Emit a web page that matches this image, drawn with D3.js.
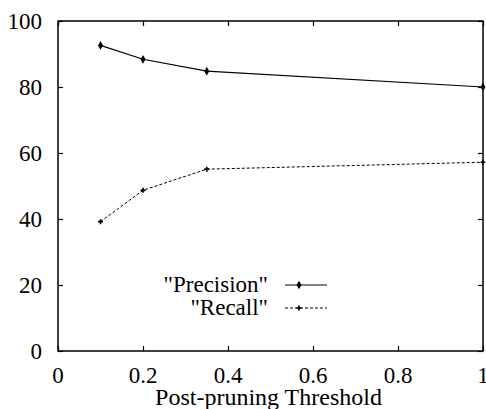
<!DOCTYPE html>
<html>
<head>
<script src="https://cdn.jsdelivr.net/npm/d3@7/dist/d3.min.js"></script>
</head>
<body style="margin:0">
<script>

// data
var thresholds = [0.1, 0.2, 0.35, 1];
var precision = [92.6, 88.4, 84.8, 80.0];
var recall = [39.2, 48.7, 55.1, 57.2];
var seriesNames = ["\"Precision\"", "\"Recall\""];
var xTicks = [0, 0.2, 0.4, 0.6, 0.8, 1];
var yTicks = [0, 20, 40, 60, 80, 100];

var fontFam = "Liberation Serif";

var margin = {top: 21, right: 3, bottom: 58, left: 58};
var width = 486 - margin.left - margin.right,
    height = 409 - margin.top - margin.bottom;

var svg = d3.select("body").append("svg")
    .attr("width", 486)
    .attr("height", 409);

var g = svg.append("g")
    .attr("transform", "translate(" + margin.left + "," + margin.top + ")");

var x = d3.scaleLinear().domain([0, 1]).range([0, width]);
var y = d3.scaleLinear().domain([0, 100]).range([height, 0]);

// mirrored inward ticks, gnuplot style
function tickAxis(axis, tr) {
    var a = g.append("g").attr("transform", tr).call(axis);
    a.select(".domain").remove();
    a.selectAll("line").attr("stroke", "#000").attr("stroke-width", 1.2);
    a.selectAll("text").remove();
    return a;
}
tickAxis(d3.axisBottom(x).tickValues(xTicks).tickSize(-5), "translate(0," + height + ")");
tickAxis(d3.axisTop(x).tickValues(xTicks).tickSize(-5), "translate(0,0)");
tickAxis(d3.axisLeft(y).tickValues(yTicks).tickSize(-5), "translate(0,0)");
tickAxis(d3.axisRight(y).tickValues(yTicks).tickSize(-5), "translate(" + width + ",0)");

g.append("rect")
    .attr("width", width)
    .attr("height", height)
    .attr("fill", "none")
    .attr("stroke", "#000")
    .attr("stroke-width", 1.5);

// tick labels
g.selectAll(".xlab")
    .data(xTicks)
    .enter().append("text")
    .attr("class", "xlab")
    .attr("x", function(d) { return x(d); })
    .attr("y", height + 32)
    .attr("text-anchor", "middle")
    .style("font-family", fontFam)
    .style("font-size", "23px")
    .text(function(d) { return d; });

g.selectAll(".ylab")
    .data(yTicks)
    .enter().append("text")
    .attr("class", "ylab")
    .attr("x", -16)
    .attr("y", function(d) { return y(d) + 8; })
    .attr("text-anchor", "end")
    .style("font-family", fontFam)
    .style("font-size", "23px")
    .text(function(d) { return d; });

g.append("text")
    .attr("x", width / 2 - 2)
    .attr("y", height + 54)
    .attr("text-anchor", "middle")
    .style("font-family", fontFam)
    .style("font-size", "24px")
    .text("Post-pruning Threshold");

var line = d3.line()
    .x(function(d) { return x(d[0]); })
    .y(function(d) { return y(d[1]); });

var precData = thresholds.map(function(t, i) { return [t, precision[i]]; });
var recData = thresholds.map(function(t, i) { return [t, recall[i]]; });

g.append("path")
    .datum(precData)
    .attr("d", line)
    .attr("fill", "none")
    .attr("stroke", "#000")
    .attr("stroke-width", 1.2);

g.append("path")
    .datum(recData)
    .attr("d", line)
    .attr("fill", "none")
    .attr("stroke", "#000")
    .attr("stroke-width", 1)
    .attr("stroke-dasharray", "3,2");

var diamond = d3.symbol().type(d3.symbolDiamond).size(22);
var plus = d3.symbol().type(d3.symbolCross).size(14);

g.selectAll(".pm")
    .data(precData)
    .enter().append("path")
    .attr("class", "pm")
    .attr("d", diamond)
    .attr("transform", function(d) { return "translate(" + x(d[0]) + "," + y(d[1]) + ")"; })
    .attr("fill", "#000");

g.selectAll(".rm")
    .data(recData)
    .enter().append("path")
    .attr("class", "rm")
    .attr("d", plus)
    .attr("transform", function(d) { return "translate(" + x(d[0]) + "," + y(d[1]) + ")"; })
    .attr("fill", "#000");

// legend
var legend = svg.append("g");
var legY = [285, 308];

legend.selectAll("text")
    .data(seriesNames)
    .enter().append("text")
    .attr("x", 268)
    .attr("y", function(d, i) { return legY[i] + 7; })
    .attr("text-anchor", "end")
    .style("font-family", fontFam)
    .style("font-size", "23px")
    .text(function(d) { return d; });

legend.append("line")
    .attr("x1", 285).attr("x2", 327)
    .attr("y1", legY[0]).attr("y2", legY[0])
    .attr("stroke", "#000").attr("stroke-width", 1.2);
legend.append("path")
    .attr("d", diamond)
    .attr("transform", "translate(299," + legY[0] + ")");

legend.append("line")
    .attr("x1", 285).attr("x2", 327)
    .attr("y1", legY[1]).attr("y2", legY[1])
    .attr("stroke", "#000").attr("stroke-width", 1)
    .attr("stroke-dasharray", "3,2");
legend.append("path")
    .attr("d", plus)
    .attr("transform", "translate(299," + legY[1] + ")");

</script>
</body>
</html>
